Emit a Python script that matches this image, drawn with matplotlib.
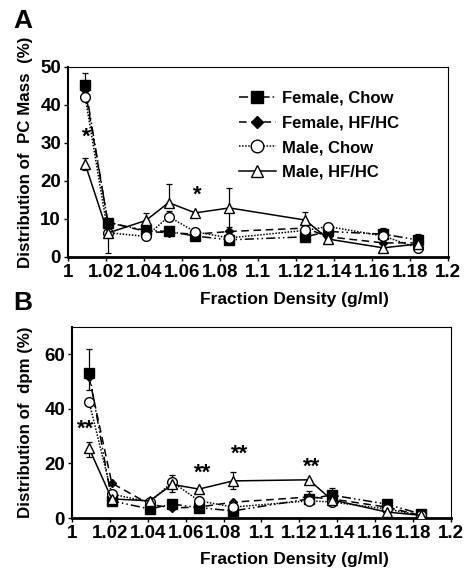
import matplotlib
matplotlib.use("Agg")
import matplotlib.pyplot as plt

plt.rcParams['font.family'] = ['Liberation Sans', 'DejaVu Sans']
plt.rcParams['font.weight'] = 'bold'

# fraction densities (g/ml)
density = [1.009, 1.021, 1.041, 1.053, 1.067, 1.085, 1.125, 1.137, 1.166, 1.184]

# panel A: distribution of PC mass (%)
a_female_chow = [45.3, 9.0, 7.0, 6.7, 5.5, 4.5, 5.3, 6.7, 6.0, 4.5]
a_female_hf = [44.0, 9.2, 6.7, 6.4, 6.0, 6.7, 7.6, 5.3, 3.7, 3.7]
a_male_chow = [42.2, 6.4, 5.4, 10.6, 6.6, 5.0, 7.0, 8.0, 5.5, 2.4]
a_male_hf = [24.5, 6.3, 9.6, 14.3, 11.6, 12.9, 9.7, 4.7, 2.4, 3.4]

a_fc_up = [3.0, 0, 0, 0, 0, 0, 0, 0, 1.7, 1.5]
a_fh_dn = [0, 0, 0, 0, 0, 1.5, 0, 0, 0, 0]
a_mc_up = [0, 0, 0, 1.6, 0, 0, 0, 0, 0, 0]
a_mh_up = [1.5, 0, 2.0, 5.0, 0, 5.3, 2.0, 0, 0, 0]
a_mh_dn = [1.5, 5.3, 0, 0, 0, 5.0, 0, 0, 0, 0]

# panel B: distribution of dpm (%)
b_female_chow = [53.3, 6.3, 3.3, 5.1, 3.8, 2.6, 7.0, 8.4, 5.1, 1.5]
b_female_hf = [51.6, 12.8, 5.0, 3.7, 4.0, 5.8, 7.7, 7.0, 4.0, 1.0]
b_male_chow = [42.6, 8.8, 5.8, 13.2, 6.3, 4.0, 6.3, 5.9, 3.3, 1.0]
b_male_hf = [25.6, 7.0, 6.3, 12.3, 10.6, 13.6, 14.0, 6.7, 2.2, 1.0]

b_fc_up = [8.6, 0, 0, 0, 0, 0, 3.0, 2.5, 0, 0]
b_fh_dn = [4.6, 0, 0, 0, 0, 0, 0, 0, 0, 0]
b_mc_up = [0, 0, 0, 2.6, 0, 0, 0, 0, 0, 0]
b_mc_dn = [0, 0, 0, 3.7, 0, 0, 0, 0, 0, 0]
b_mh_up = [2.4, 0, 0, 0, 0, 3.3, 0, 0, 0, 0]
b_mh_dn = [3.3, 0, 0, 0, 0, 3.0, 0, 0, 0, 0]

xticks = [1.0, 1.02, 1.04, 1.06, 1.08, 1.1, 1.12, 1.14, 1.16, 1.18, 1.2]
xtick_labels = ['1', '1.02', '1.04', '1.06', '1.08', '1.1', '1.12', '1.14', '1.16', '1.18', '1.2']

labels = ['Female, Chow', 'Female, HF/HC', 'Male, Chow', 'Male, HF/HC']
styles = [
    dict(ls=(0, (6, 2, 1, 2, 1, 2)), marker='s', mfc='black', ms=6.5),
    dict(ls=(0, (5, 3)), marker='D', mfc='black', ms=4.5),
    dict(ls=(0, (1, 1)), marker='o', mfc='white', ms=7),
    dict(ls='-', marker='^', mfc='white', ms=7),
]

fig = plt.figure(figsize=(4.69, 5.71), dpi=100)
axA = fig.add_axes([0.145, 0.55, 0.81, 0.3327])
axB = fig.add_axes([0.1535, 0.0928, 0.808, 0.3345])


def draw(ax, series, errs, ylim, yticks, ylabel):
    for ys, st, lab in zip(series, styles, labels):
        ax.plot(density, ys, color='black', lw=1.1, ls=st['ls'], marker=st['marker'],
                mfc=st['mfc'], mec='black', mew=1.0, ms=st['ms'], label=lab, zorder=3)
    for idx, up, dn in errs:
        ys = series[idx]
        ax.errorbar(density, ys, yerr=[dn, up], fmt='none', ecolor='black',
                    elinewidth=0.9, capsize=2.5, capthick=0.9, zorder=2)
    ax.set_xlim(1.0, 1.2)
    ax.set_ylim(*ylim)
    ax.set_xticks(xticks)
    ax.set_xticklabels(xtick_labels)
    ax.set_yticks(yticks)
    ax.tick_params(direction='out', length=3, width=1, labelsize=13.5, pad=2)
    for lab in ax.get_xticklabels() + ax.get_yticklabels():
        lab.set_fontweight('bold')
    ax.spines['bottom'].set_linewidth(2)
    ax.spines['left'].set_linewidth(1.5)
    ax.spines['top'].set_linewidth(0.8)
    ax.spines['right'].set_linewidth(0.8)
    ax.set_ylabel(ylabel, fontsize=12.2, fontweight='bold')
    ax.set_xlabel('Fraction Density (g/ml)', fontsize=12.5, fontweight='bold')


draw(axA, [a_female_chow, a_female_hf, a_male_chow, a_male_hf],
     [(0, a_fc_up, [0] * 10), (1, [0] * 10, a_fh_dn), (2, a_mc_up, [0] * 10), (3, a_mh_up, a_mh_dn)],
     (0, 50), [0, 10, 20, 30, 40, 50], 'Distribution of  PC Mass  (%)')
draw(axB, [b_female_chow, b_female_hf, b_male_chow, b_male_hf],
     [(0, b_fc_up, [0] * 10), (1, [0] * 10, b_fh_dn), (2, b_mc_up, b_mc_dn), (3, b_mh_up, b_mh_dn)],
     (0, 70), [0, 20, 40, 60], 'Distribution of  dpm (%)')

axA.xaxis.set_label_coords(0.595, -0.185)
axA.yaxis.set_label_coords(-0.092, 0.55)
axB.xaxis.set_label_coords(0.586, -0.18)
axB.yaxis.set_label_coords(-0.103, 0.5)

leg = axA.legend(loc='upper left', bbox_to_anchor=(0.45, 0.875), frameon=False,
                 fontsize=12, handlelength=2.2, handletextpad=0.4, labelspacing=0.58,
                 borderpad=0, borderaxespad=0, markerscale=1.3)
for t in leg.get_texts():
    t.set_fontweight('bold')

# significance marks
axA.text(1.0095, 31.5, '*', fontsize=16, fontweight='bold', ha='center', va='center')
axA.text(1.068, 16.3, '*', fontsize=16, fontweight='bold', ha='center', va='center')
axB.text(1.007, 32.6, '**', fontsize=16, fontweight='bold', ha='center', va='center')
axB.text(1.069, 16.5, '**', fontsize=16, fontweight='bold', ha='center', va='center')
axB.text(1.0887, 23.5, '**', fontsize=16, fontweight='bold', ha='center', va='center')
axB.text(1.1266, 18.5, '**', fontsize=16, fontweight='bold', ha='center', va='center')

fig.text(0.028, 0.963, 'A', fontsize=19, fontweight='bold', va='center')
fig.text(0.028, 0.47, 'B', fontsize=19, fontweight='bold', va='center')

fig.savefig('out.png', dpi=100)
